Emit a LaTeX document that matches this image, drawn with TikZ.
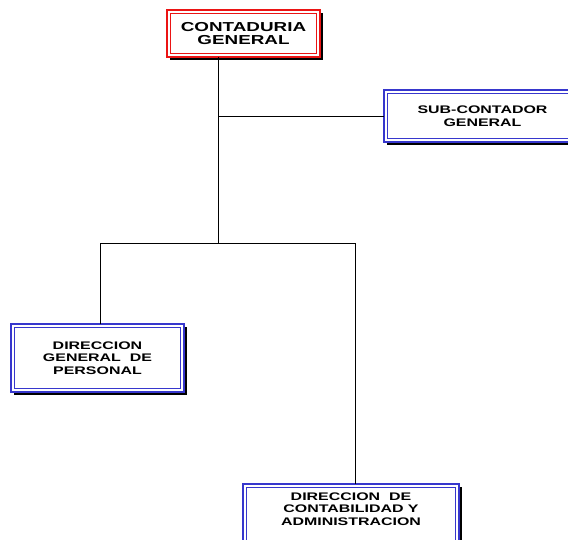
\documentclass[tikz,border=0pt]{standalone}
\usepackage{fontspec}
\newfontfamily\boxfont[FakeStretch=1.45]{Liberation Sans}
\usetikzlibrary{shadows}
\definecolor{boxred}{RGB}{235,20,20}
\definecolor{boxblue}{RGB}{55,55,205}
\begin{document}
\begin{tikzpicture}[x=1pt,y=-1pt,
  orgbox/.style={draw=#1, line width=2.6pt, fill=white, outer sep=0pt, inner sep=0pt,
    align=center, font=\boxfont\bfseries\fontsize{11}{12.6}\selectfont,
    drop shadow={shadow xshift=2.6pt, shadow yshift=-2.6pt, fill=black, opacity=1}},
  innerline/.style={draw=#1, line width=0.8pt},
  boxtext/.style={align=center, inner sep=0pt, font=\boxfont\bfseries\fontsize{11}{12.6}\selectfont},
  conn/.style={draw=black, line width=0.9pt}
]
\useasboundingbox (0,0) rectangle (568,539);
\begin{scope}
\clip (0,0) rectangle (568,539);
% boxes
\node[orgbox=boxred, minimum width=153pt, minimum height=47pt,
      font=\boxfont\bfseries\fontsize{13}{13.8}\selectfont] (cg) at (243.5,33.5) {CONTADURIA\\GENERAL};
\draw[innerline=boxred] ([shift={(3.8pt,-3.8pt)}]cg.north west) rectangle ([shift={(-3.8pt,3.8pt)}]cg.south east);

\node[orgbox=boxblue, minimum width=197pt, minimum height=52pt] (sc) at (482.5,116) {SUB-CONTADOR\\GENERAL};
\draw[innerline=boxblue] ([shift={(3.8pt,-3.8pt)}]sc.north west) rectangle ([shift={(-3.8pt,3.8pt)}]sc.south east);

\node[orgbox=boxblue, minimum width=173pt, minimum height=68pt] (dp) at (97.5,358) {DIRECCION\\GENERAL\ \ DE\\PERSONAL};
\draw[innerline=boxblue] ([shift={(3.8pt,-3.8pt)}]dp.north west) rectangle ([shift={(-3.8pt,3.8pt)}]dp.south east);

\node[orgbox=boxblue, minimum width=216pt, minimum height=76pt] (dc) at (351,522) {};
\draw[innerline=boxblue] ([shift={(3.8pt,-3.8pt)}]dc.north west) rectangle ([shift={(-3.8pt,3.8pt)}]dc.south east);
\node[boxtext] (dctext) at (351,509) {DIRECCION\ \ DE\\CONTABILIDAD Y\\ADMINISTRACION};

% connectors
\coordinate (j) at (218,243);
\coordinate (l) at (100,243);
\coordinate (r) at (355,243);
\draw[conn] (cg.south -| j) -- (j);
\draw[conn] (j |- sc.west) -- (sc.west);
\draw[conn] (l) -- (r);
\draw[conn] (l) -- (l |- dp.north);
\draw[conn] (r) -- (r |- dc.north);
\end{scope}
\end{tikzpicture}
\end{document}
